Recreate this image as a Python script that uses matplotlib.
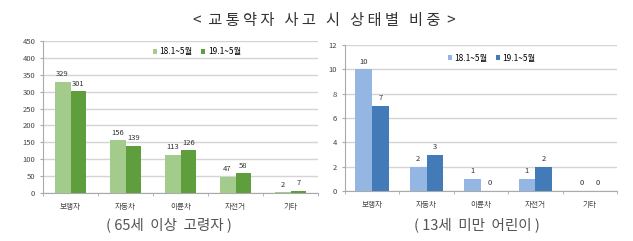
import numpy as np
import matplotlib.pyplot as plt

plt.rcParams['font.family'] = ['Noto Sans CJK KR', 'DejaVu Sans']

categories = ["보행자", "자동차", "이륜차", "자전거", "기타"]
series_names = ["18.1~5월", "19.1~5월"]
elderly_18 = [329, 156, 113, 47, 2]
elderly_19 = [301, 139, 126, 58, 7]
child_18 = [10, 2, 1, 1, 0]
child_19 = [7, 3, 0, 2, 0]

W, H = 633, 241
fig = plt.figure(figsize=(W / 100, H / 100), dpi=100)


def panel(rect, v1, v2, c1, c2, ymax, ystep, bw, leg_xy):
    ax = fig.add_axes(rect)
    x = np.arange(len(categories))
    b1 = ax.bar(x - bw / 2, v1, bw, color=c1, label=series_names[0], zorder=3)
    b2 = ax.bar(x + bw / 2, v2, bw, color=c2, label=series_names[1], zorder=3)
    for bars in (b1, b2):
        for b in bars:
            ax.text(b.get_x() + b.get_width() / 2, b.get_height() + ymax * 0.025,
                    str(int(b.get_height())), ha="center", va="bottom",
                    fontsize=5.5, color="#333333", zorder=4)
    ax.set_xlim(-0.5, len(categories) - 0.5)
    ax.set_ylim(0, ymax)
    ax.set_yticks(np.arange(0, ymax + 1, ystep))
    ax.set_xticks(x)
    ax.set_xticklabels(categories)
    ax.set_xticks(np.arange(-0.5, len(categories)), minor=True)
    ax.tick_params(axis="x", which="major", length=0, labelsize=5.5, colors="#444444", pad=7)
    ax.tick_params(axis="x", which="minor", length=2, color="#aaaaaa")
    ax.tick_params(axis="y", length=2, labelsize=5.5, colors="#444444", color="#aaaaaa")
    ax.grid(axis="y", color="#d4d4d4", linewidth=1, zorder=0)
    for s in ("top", "right"):
        ax.spines[s].set_visible(False)
    for s in ("left", "bottom"):
        ax.spines[s].set_color("#aaaaaa")
        ax.spines[s].set_linewidth(0.8)
    ax.legend(loc="center", bbox_to_anchor=leg_xy, ncol=2, frameon=False,
              fontsize=6, handlelength=0.5, handleheight=0.5,
              handletextpad=0.3, columnspacing=1.0)
    return ax


# left: elderly
panel([43 / W, 1 - 193 / H, (318 - 43) / W, (193 - 41) / H],
      elderly_18, elderly_19, "#a3cc8c", "#5f9e3c", 450, 50, 0.29, (0.56, 0.93))
# right: children
panel([345 / W, 1 - 191 / H, (617 - 345) / W, (191 - 45) / H],
      child_18, child_19, "#93b6e2", "#437bb8", 12, 2, 0.31, (0.54, 0.91))

fig.text(324 / W, 1 - 20 / H, "<  교 통 약 자   사 고   시   상 태 별   비 중  >",
         ha="center", va="center", fontsize=11, color="#333333")
fig.text(169 / W, 1 - 225 / H, "( 65세  이상  고령자 )", ha="center", va="center",
         fontsize=10.5, color="#555555")
fig.text(477 / W, 1 - 225 / H, "( 13세  미만  어린이 )", ha="center", va="center",
         fontsize=10.5, color="#555555")

fig.savefig("out.png", dpi=100)
